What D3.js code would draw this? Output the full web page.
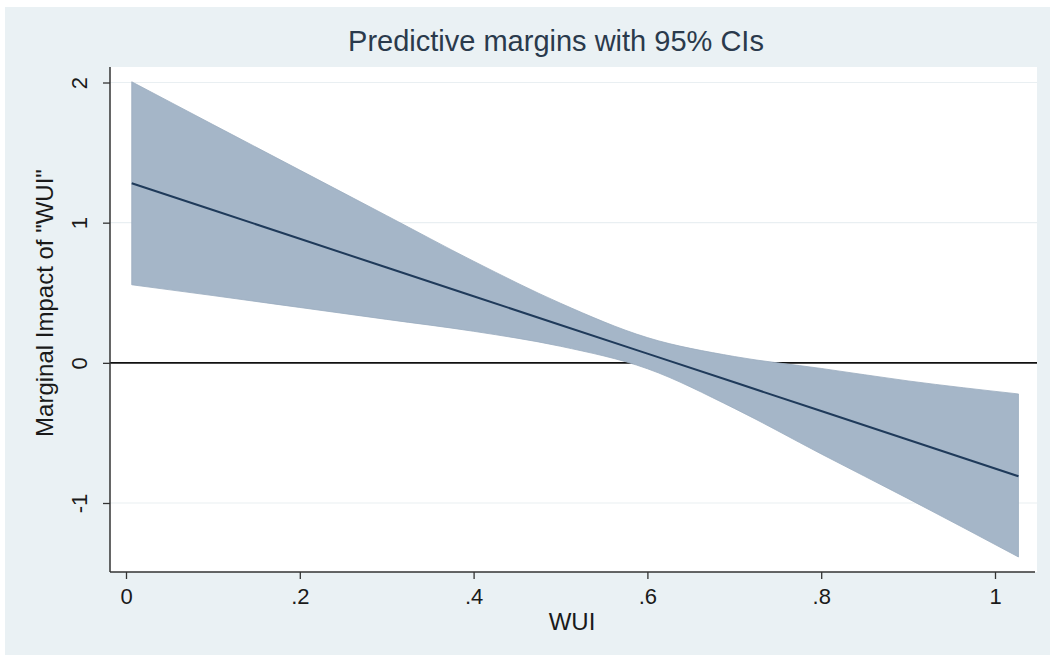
<!DOCTYPE html>
<html>
<head>
<meta charset="utf-8">
<script src="https://cdn.jsdelivr.net/npm/d3@7"></script>
<style>
  body { margin: 0; background: #fff; }
  text { font-family: "Liberation Sans", Arial, sans-serif; }
</style>
</head>
<body>
<div id="chart"></div>
<script>
// values
var wui   = [0.0066, 0.1, 0.2, 0.3, 0.4, 0.5, 0.6, 0.7, 0.8, 0.9, 1.027];
var est   = [1.281, 1.090, 0.885, 0.680, 0.475, 0.270, 0.066, -0.139, -0.344, -0.549, -0.809];
var upper = [2.005, 1.700, 1.375, 1.050, 0.725, 0.425, 0.180, 0.045, -0.040, -0.129, -0.222];
var lower = [0.557, 0.480, 0.395, 0.310, 0.225, 0.118, -0.042, -0.325, -0.650, -0.969, -1.385];

var xTickVals = [0, 0.2, 0.4, 0.6, 0.8, 1];
var xTickLabels = ["0", ".2", ".4", ".6", ".8", "1"];
var yTickVals = [-1, 0, 1, 2];
var gridVals = [-1, 1, 2];

var svgWidth = 1050, svgHeight = 657;

// plot region
var plot = { left: 110, right: 1037, top: 67, bottom: 572 };

var svg = d3.select("#chart")
    .append("svg")
    .attr("width", svgWidth)
    .attr("height", svgHeight);

// graph region background
svg.append("rect")
    .attr("x", 5).attr("y", 7)
    .attr("width", svgWidth - 5).attr("height", 648)
    .attr("fill", "#eaf1f4");

svg.append("rect")
    .attr("x", plot.left).attr("y", plot.top)
    .attr("width", plot.right - plot.left)
    .attr("height", plot.bottom - plot.top)
    .attr("fill", "#ffffff");

var xScale = d3.scaleLinear().domain([0, 1]).range([126, 995]);
var yScale = d3.scaleLinear().domain([-1, 2]).range([503, 82.5]);

var rows = wui.map(function(w, i) {
    return { x: w, est: est[i], hi: upper[i], lo: lower[i] };
});

// grid lines
svg.append("g").selectAll("line")
    .data(gridVals)
    .enter()
    .append("line")
    .attr("x1", plot.left).attr("x2", plot.right)
    .attr("y1", d => yScale(d)).attr("y2", d => yScale(d))
    .attr("stroke", "#e9eff2")
    .attr("stroke-width", 1.2);

// zero line
svg.append("line")
    .attr("x1", plot.left).attr("x2", plot.right)
    .attr("y1", yScale(0)).attr("y2", yScale(0))
    .attr("stroke", "#111")
    .attr("stroke-width", 1.6);

// CI band
var area = d3.area()
    .x(d => xScale(d.x))
    .y0(d => yScale(d.lo))
    .y1(d => yScale(d.hi))
    .curve(d3.curveMonotoneX);

svg.append("path")
    .datum(rows)
    .attr("d", area)
    .attr("fill", "#a5b6c8")
    .attr("stroke", "#9aacbf")
    .attr("stroke-width", 0.8);

// margin line
var line = d3.line()
    .x(d => xScale(d.x))
    .y(d => yScale(d.est));

svg.append("path")
    .datum(rows)
    .attr("d", line)
    .attr("fill", "none")
    .attr("stroke", "#1f3a5a")
    .attr("stroke-width", 2);

// axes
var xAxis = d3.axisBottom(xScale)
    .tickValues(xTickVals)
    .tickFormat((d, i) => xTickLabels[i])
    .tickSize(7);

var gx = svg.append("g")
    .attr("transform", `translate(0, ${plot.bottom})`)
    .call(xAxis);
gx.select(".domain").remove();
gx.selectAll(".tick line").attr("stroke", "#333").attr("stroke-width", 1.3);
gx.selectAll(".tick text")
    .attr("y", 16)
    .attr("font-size", 22)
    .attr("fill", "#1a1a1a");

var yAxis = d3.axisLeft(yScale)
    .tickValues(yTickVals)
    .tickFormat(d => String(d))
    .tickSize(7);

var gy = svg.append("g")
    .attr("transform", `translate(${plot.left}, 0)`)
    .call(yAxis);
gy.select(".domain").remove();
gy.selectAll(".tick line").attr("stroke", "#333").attr("stroke-width", 1.3);
gy.selectAll(".tick text")
    .attr("transform", "rotate(-90)")
    .attr("x", 0)
    .attr("y", -23)
    .attr("dy", 0)
    .attr("text-anchor", "middle")
    .attr("font-size", 22)
    .attr("fill", "#1a1a1a");

// axis lines across the whole plot region
svg.append("line")
    .attr("x1", plot.left).attr("x2", 1035)
    .attr("y1", plot.bottom).attr("y2", plot.bottom)
    .attr("stroke", "#333").attr("stroke-width", 1.5);
svg.append("line")
    .attr("x1", plot.left).attr("x2", plot.left)
    .attr("y1", plot.top).attr("y2", plot.bottom)
    .attr("stroke", "#333").attr("stroke-width", 1.5);

// titles
svg.append("text")
    .attr("x", 556).attr("y", 51)
    .attr("text-anchor", "middle")
    .attr("font-size", 29)
    .attr("fill", "#2a3a4c")
    .text("Predictive margins with 95% CIs");

svg.append("text")
    .attr("x", 572).attr("y", 630)
    .attr("text-anchor", "middle")
    .attr("font-size", 24)
    .attr("fill", "#1a1a1a")
    .text("WUI");

svg.append("text")
    .attr("transform", "translate(53, 303) rotate(-90)")
    .attr("text-anchor", "middle")
    .attr("font-size", 24)
    .attr("fill", "#1a1a1a")
    .text("Marginal Impact of \"WUI\"");
</script>
</body>
</html>
